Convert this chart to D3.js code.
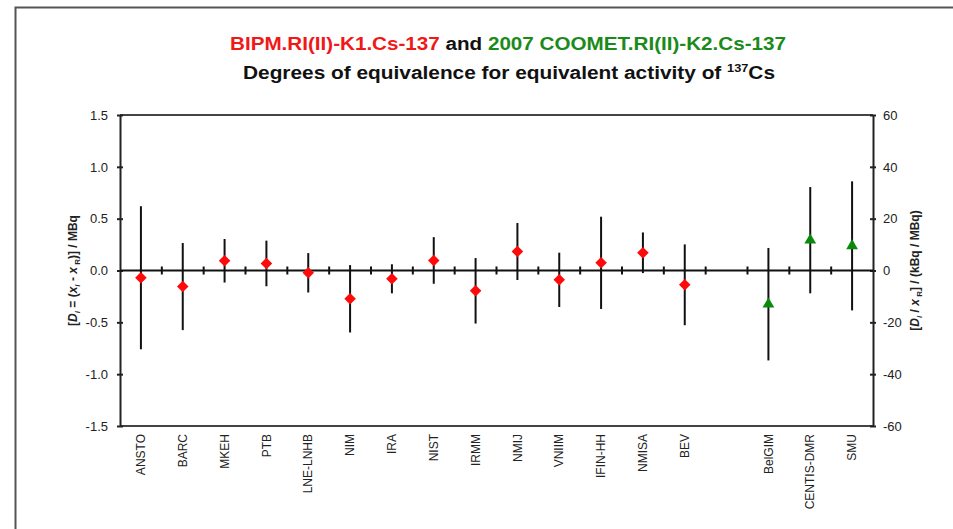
<!DOCTYPE html>
<html>
<head>
<meta charset="utf-8">
<script src="https://cdn.jsdelivr.net/npm/d3@7"></script>
<style>
  body { margin: 0; background: #fff; }
  svg text { font-family: "Liberation Sans", Arial, sans-serif; }
</style>
</head>
<body>
<div id="chart-area"></div>
<script>
// BIPM.RI(II)-K1 results: D_i and expanded uncertainty U_i, in MBq
var k1Labels = ["ANSTO", "BARC", "MKEH", "PTB", "LNE-LNHB", "NIM", "IRA", "NIST",
                "IRMM", "NMIJ", "VNIIM", "IFIN-HH", "NMISA", "BEV"];
var k1D = [-0.07, -0.155, 0.094, 0.068, -0.022, -0.273, -0.08, 0.097,
           -0.196, 0.183, -0.09, 0.074, 0.171, -0.138];
var k1U = [0.69, 0.42, 0.21, 0.22, 0.19, 0.325, 0.14, 0.225,
           0.316, 0.275, 0.262, 0.445, 0.196, 0.39];

// 2007 COOMET.RI(II)-K2 results: D_i / x_R and U_i, in kBq/MBq
var k2Labels = ["BelGIM", "CENTIS-DMR", "SMU"];
var k2D = [-13.0, 11.7, 9.5];
var k2U = [21.7, 20.5, 24.9];

var leftTicks = [-1.5, -1.0, -0.5, 0.0, 0.5, 1.0, 1.5];
var rightTicks = [-60, -40, -20, 0, 20, 40, 60];

var slots = k1Labels.concat(["gap"], k2Labels);

var W = 953, H = 529;
var plot = { left: 120, right: 873, top: 115, bottom: 426 };

var svg = d3.select("#chart-area").append("svg")
    .attr("width", W)
    .attr("height", H);

// outer frame (top and left edges visible)
svg.append("path")
    .attr("d", "M15.5," + H + "V7.5H" + W)
    .attr("fill", "none")
    .attr("stroke", "#555")
    .attr("stroke-width", 2);

// Scales
var x = d3.scaleBand().domain(slots).range([plot.left, plot.right]).padding(0);
var yL = d3.scaleLinear().domain([-1.5, 1.5]).range([plot.bottom, plot.top]);
var yR = d3.scaleLinear().domain([-60, 60]).range([plot.bottom, plot.top]);

// plain hyphen for negatives, like the original
var fmtL = function(d) { return d3.format(".1f")(d).replace("−", "-"); };
var fmtR = function(d) { return d3.format("d")(d).replace("−", "-"); };

// Titles
var titleFont = "'Liberation Sans Narrow', 'Arial Narrow', 'Liberation Sans', sans-serif";
var t1 = svg.append("text")
    .attr("x", 508).attr("y", 50)
    .attr("text-anchor", "middle")
    .attr("font-size", "18px")
    .attr("font-weight", "bold")
    .style("font-family", titleFont)
    .attr("textLength", 556).attr("lengthAdjust", "spacingAndGlyphs");
t1.append("tspan").attr("fill", "#f01818").text("BIPM.RI(II)-K1.Cs-137");
t1.append("tspan").attr("fill", "#111").text(" and ");
t1.append("tspan").attr("fill", "#1a8a1a").text("2007 COOMET.RI(II)-K2.Cs-137");

var t2 = svg.append("text")
    .attr("x", 509).attr("y", 79)
    .attr("text-anchor", "middle")
    .attr("font-size", "18px")
    .attr("font-weight", "bold")
    .attr("fill", "#111")
    .style("font-family", titleFont)
    .attr("textLength", 532).attr("lengthAdjust", "spacingAndGlyphs");
t2.append("tspan").text("Degrees of equivalence for equivalent activity of ");
t2.append("tspan").attr("font-size", "11px").attr("dy", -7).text("137");
t2.append("tspan").attr("dy", 7).text("Cs");

var g = svg.append("g");

// plot box top and bottom
g.append("line")
    .attr("x1", plot.left).attr("x2", plot.right)
    .attr("y1", plot.top).attr("y2", plot.top)
    .attr("stroke", "#444").attr("stroke-width", 2);
g.append("line")
    .attr("x1", plot.left).attr("x2", plot.right)
    .attr("y1", plot.bottom).attr("y2", plot.bottom)
    .attr("stroke", "#444").attr("stroke-width", 2);

// Axes
var leftAxis = g.append("g")
    .attr("transform", "translate(" + plot.left + ",0)")
    .call(d3.axisLeft(yL).tickValues(leftTicks).tickFormat(fmtL)
        .tickSizeInner(3).tickSizeOuter(0).tickPadding(10));
var rightAxis = g.append("g")
    .attr("transform", "translate(" + plot.right + ",0)")
    .call(d3.axisRight(yR).tickValues(rightTicks).tickFormat(fmtR)
        .tickSizeInner(3).tickSizeOuter(0).tickPadding(7));

[leftAxis, rightAxis].forEach(function(ax) {
    ax.select(".domain").attr("stroke", "#222").attr("stroke-width", 2);
    ax.selectAll(".tick line")
        .attr("stroke", "#222").attr("stroke-width", 2)
        .attr("x1", -3).attr("x2", 3);
    ax.selectAll(".tick text")
        .attr("font-size", "13px")
        .attr("fill", "#222")
        .style("font-family", "'Liberation Sans', Arial, sans-serif");
});
leftAxis.selectAll(".tick text").attr("x", -12);
rightAxis.selectAll(".tick text").attr("x", 10);

// zero line with ticks at slot boundaries
g.append("line")
    .attr("x1", plot.left).attr("x2", plot.right)
    .attr("y1", yL(0)).attr("y2", yL(0))
    .attr("stroke", "#111").attr("stroke-width", 2);
g.selectAll(".ztick")
    .data(slots.slice(1))
    .enter().append("line")
    .attr("class", "ztick")
    .attr("x1", function(d) { return x(d); })
    .attr("x2", function(d) { return x(d); })
    .attr("y1", yL(0) - 4).attr("y2", yL(0) + 4)
    .attr("stroke", "#111").attr("stroke-width", 2);

// Category labels
g.selectAll(".cat")
    .data(slots.filter(function(d) { return d !== "gap"; }))
    .enter().append("text")
    .attr("class", "cat")
    .attr("transform", function(d) {
        return "translate(" + (x(d) + x.bandwidth() / 2) + ",434) rotate(-90)";
    })
    .attr("dy", "0.35em")
    .attr("text-anchor", "end")
    .attr("font-size", "12px")
    .attr("fill", "#222")
    .text(function(d) { return d; });

// Axis titles
var lt = svg.append("text")
    .attr("transform", "translate(73," + yL(0) + ") rotate(-90)")
    .attr("text-anchor", "middle")
    .attr("dy", "0.35em")
    .attr("font-size", "12px")
    .attr("font-weight", "bold")
    .attr("fill", "#222");
lt.append("tspan").text("[");
lt.append("tspan").attr("font-style", "italic").text("D");
lt.append("tspan").attr("font-style", "italic").attr("font-size", "8px").attr("dy", 3).text("i");
lt.append("tspan").attr("dy", -3).text(" = (");
lt.append("tspan").attr("font-style", "italic").text("x");
lt.append("tspan").attr("font-style", "italic").attr("font-size", "8px").attr("dy", 3).text("i");
lt.append("tspan").attr("dy", -3).text(" - ");
lt.append("tspan").attr("font-style", "italic").text("x");
lt.append("tspan").attr("font-size", "8px").attr("dy", 3).text(" R");
lt.append("tspan").attr("dy", -3).text(")] / MBq");

var rt = svg.append("text")
    .attr("transform", "translate(915," + yL(0) + ") rotate(-90)")
    .attr("text-anchor", "middle")
    .attr("dy", "0.35em")
    .attr("font-size", "12px")
    .attr("font-weight", "bold")
    .attr("fill", "#222");
rt.append("tspan").text("[");
rt.append("tspan").attr("font-style", "italic").text("D");
rt.append("tspan").attr("font-style", "italic").attr("font-size", "8px").attr("dy", 3).text("i");
rt.append("tspan").attr("dy", -3).text(" / ");
rt.append("tspan").attr("font-style", "italic").text("x");
rt.append("tspan").attr("font-size", "8px").attr("dy", 3).text(" R");
rt.append("tspan").attr("dy", -3).text("] / (kBq / MBq)");

// K1 error bars and diamonds
var k1 = k1Labels.map(function(d, i) { return { lab: d, v: k1D[i], u: k1U[i] }; });
var k2 = k2Labels.map(function(d, i) { return { lab: d, v: k2D[i], u: k2U[i] }; });
var cx = function(d) { return x(d.lab) + x.bandwidth() / 2; };

g.selectAll(".err1")
    .data(k1)
    .enter().append("line")
    .attr("class", "err1")
    .attr("x1", cx).attr("x2", cx)
    .attr("y1", function(d) { return yL(d.v + d.u); })
    .attr("y2", function(d) { return yL(d.v - d.u); })
    .attr("stroke", "#111").attr("stroke-width", 2);

g.selectAll(".err2")
    .data(k2)
    .enter().append("line")
    .attr("class", "err2")
    .attr("x1", cx).attr("x2", cx)
    .attr("y1", function(d) { return yR(d.v + d.u); })
    .attr("y2", function(d) { return yR(d.v - d.u); })
    .attr("stroke", "#111").attr("stroke-width", 2);

g.selectAll(".pt1")
    .data(k1)
    .enter().append("path")
    .attr("class", "pt1")
    .attr("d", d3.symbol().type(d3.symbolDiamond2).size(85))
    .attr("transform", function(d) { return "translate(" + cx(d) + "," + yL(d.v) + ")"; })
    .attr("fill", "#ff0a0a");

g.selectAll(".pt2")
    .data(k2)
    .enter().append("path")
    .attr("class", "pt2")
    .attr("d", d3.symbol().type(d3.symbolTriangle).size(60))
    .attr("transform", function(d) { return "translate(" + cx(d) + "," + yR(d.v) + ")"; })
    .attr("fill", "#0a8a0a");
</script>
</body>
</html>
